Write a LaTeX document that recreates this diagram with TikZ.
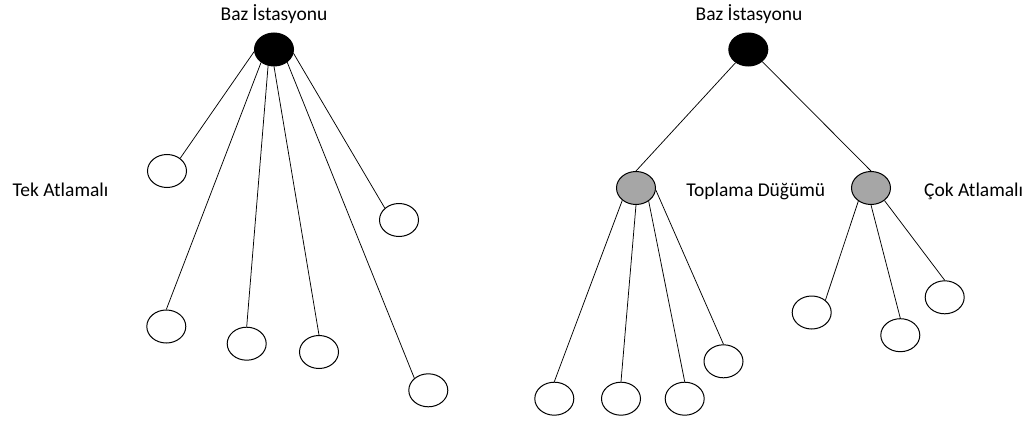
\documentclass[tikz,border=0pt]{standalone}
\usepackage{fontspec}
\setmainfont{Carlito}
\usetikzlibrary{shapes.geometric}
\definecolor{agggray}{RGB}{166,166,166}
\begin{document}
\begin{tikzpicture}[x=1pt,y=-1pt,
  sensor/.style={ellipse,draw=black,line width=1pt,fill=white,minimum width=39pt,minimum height=33pt,inner sep=0pt},
  bs/.style={sensor,fill=black},
  agg/.style={sensor,fill=agggray},
  lbl/.style={font=\fontsize{19.5}{23}\selectfont,anchor=base,inner sep=0pt},
  link/.style={line width=0.75pt}]
\useasboundingbox (0,0) rectangle (1034,423);
% left tree
\node[bs] (r1) at (274,49.5) {};
\node[sensor] (c1) at (167,171) {};
\node[sensor] (c2) at (166.3,326.5) {};
\node[sensor] (c3) at (246.7,343.7) {};
\node[sensor] (c4) at (319,352) {};
\node[sensor] (c5) at (428.3,390.3) {};
\node[sensor] (c6) at (399,220) {};
\draw[link] (r1.186) -- (c1.44);
\draw[link] (r1.225) -- (c2.90);
\draw[link] (r1.250) -- (c3.90);
\draw[link] (r1.270) -- (c4.90);
\draw[link] (r1.316) -- (c5.139);
\draw[link] (r1.349) -- (c6.140);
% right tree
\node[bs] (r2) at (748.3,49.5) {};
\node[agg] (g1) at (636,188) {};
\node[agg] (g2) at (871,188) {};
\node[sensor] (d1) at (554.3,398.7) {};
\node[sensor] (d2) at (621,398.7) {};
\node[sensor] (d3) at (684.7,398.7) {};
\node[sensor] (d4) at (723.5,361.3) {};
\node[sensor] (e1) at (811.7,312.5) {};
\node[sensor] (e2) at (900.3,335.2) {};
\node[sensor] (e3) at (944.7,297.3) {};
\draw[link] (r2.226) -- (g1.90);
\draw[link] (r2.319) -- (g2.90);
\draw[link] (g1.222) -- (d1.90);
\draw[link] (g1.270) -- (d2.90);
\draw[link] (g1.314) -- (d3.90);
\draw[link] (g1.354) -- (d4.90);
\draw[link] (g2.226) -- (e1.42);
\draw[link] (g2.270) -- (e2.90);
\draw[link] (g2.317) -- (e3.90);
% labels
\node[lbl] (t1) at (274,20) {Baz İstasyonu};
\node[lbl] (t2) at (749,20.5) {Baz İstasyonu};
\node[lbl] (t3) at (60.5,196.7) {Tek Atlamalı};
\node[lbl] (t4) at (755.8,196.7) {Toplama Düğümü};
\node[lbl] (t5) at (973.7,196.7) {Çok Atlamalı};
\end{tikzpicture}
\end{document}
